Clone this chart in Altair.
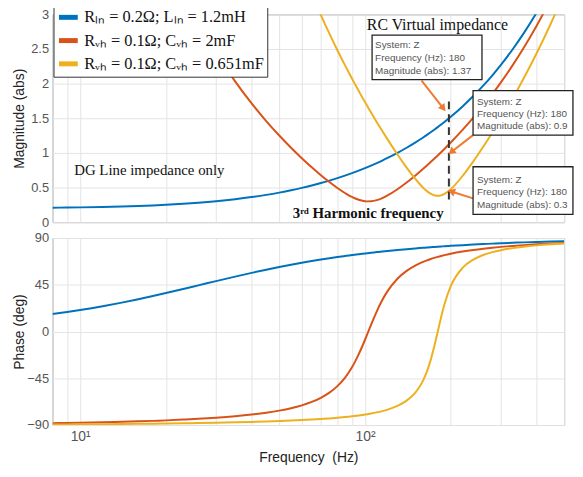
import altair as alt
import pandas as pd

# ---------------- data ----------------
freq = [8, 9, 10, 12, 14, 16, 18, 20, 23, 26, 30, 35, 40, 45, 50, 55, 60, 65, 70, 75,
        80, 85, 88, 90, 92, 95, 98, 100, 102, 105, 110, 115, 120, 130, 140, 150, 155, 160,
        165, 170, 175, 180, 185, 190, 200, 220, 240, 260, 280, 300, 330, 360, 400, 450, 500]

blue_mag = [0.2089, 0.2112, 0.2137, 0.2195, 0.2261, 0.2336, 0.2417, 0.2505, 0.2647, 0.2801,
            0.3019, 0.3311, 0.3619, 0.3939, 0.4268, 0.4604, 0.4946, 0.5293, 0.5644, 0.5998,
            0.6355, 0.6714, 0.6930, 0.7074, 0.7219, 0.7437, 0.7655, 0.7801, 0.7946, 0.8166,
            0.8532, 0.8898, 0.9266, 1.0004, 1.0744, 1.1485, 1.1857, 1.2228, 1.2600, 1.2973,
            1.3346, 1.3718, 1.4091, 1.4465, 1.5212, 1.6708, 1.8206, 1.9705, 2.1206, 2.2708,
            2.4962, 2.7217, 3.0226, 3.3988, 3.7752]
blue_phase = [16.78, 18.74, 20.66, 24.34, 27.82, 31.10, 34.16, 37.02, 40.93, 44.43,
              48.52, 52.84, 56.45, 59.48, 62.05, 64.25, 66.15, 67.80, 69.25, 70.52,
              71.66, 72.67, 73.23, 73.58, 73.92, 74.40, 74.85, 75.14, 75.42, 75.82,
              76.44, 77.01, 77.54, 78.47, 79.27, 79.97, 80.29, 80.59, 80.87, 81.13,
              81.38, 81.62, 81.84, 82.05, 82.45, 83.13, 83.69, 84.17, 84.59, 84.95,
              85.40, 85.79, 86.21, 86.63, 86.96]

red_mag = [9.891, 8.779, 7.888, 6.548, 5.587, 4.862, 4.296, 3.840, 3.300, 2.880,
           2.445, 2.032, 1.714, 1.460, 1.251, 1.075, 0.924, 0.7931, 0.6789, 0.5792,
           0.4932, 0.4210, 0.3847, 0.3637, 0.3455, 0.3236, 0.3088, 0.3029, 0.3002, 0.3019,
           0.3182, 0.3474, 0.3852, 0.4749, 0.5722, 0.6713, 0.7207, 0.7699, 0.8187, 0.8672,
           0.9154, 0.9630, 1.0103, 1.0573, 1.1499, 1.3313, 1.5081, 1.6813, 1.8515, 2.0190,
           2.2670, 2.5113, 2.8329, 3.2301, 3.6232]
red_phase = [-88.26, -88.04, -87.82, -87.37, -86.92, -86.46, -86.00, -85.52, -84.78, -84.02,
             -82.95, -81.51, -79.92, -78.14, -76.13, -73.79, -71.05, -67.78, -63.77, -58.81,
             -52.54, -44.55, -38.75, -34.42, -29.73, -22.03, -13.70, -7.93, -2.12, 6.43,
             19.45, 30.27, 38.85, 50.82, 58.38, 63.45, 65.40, 67.07, 68.50, 69.76,
             70.87, 71.85, 72.73, 73.52, 74.88, 76.98, 78.53, 79.72, 80.68, 81.46,
             82.40, 83.14, 83.92, 84.67, 85.25]

yellow_mag = [30.50, 27.10, 24.37, 20.28, 17.36, 15.16, 13.45, 12.08, 10.46, 9.211,
              7.928, 6.728, 5.818, 5.102, 4.522, 4.041, 3.634, 3.293, 2.989, 2.721,
              2.482, 2.267, 2.149, 2.073, 2.000, 1.896, 1.796, 1.733, 1.672, 1.583,
              1.444, 1.315, 1.195, 0.9773, 0.7882, 0.6271, 0.5580, 0.4978, 0.4481, 0.4109,
              0.3878, 0.3800, 0.3870, 0.4071, 0.4754, 0.6665, 0.8775, 1.0886, 1.2951, 1.4961,
              1.7882, 2.0704, 2.4346, 2.8749, 3.3030]
yellow_phase = [-89.44, -89.37, -89.29, -89.15, -89.01, -88.87, -88.72, -88.58, -88.36, -88.13,
                -87.83, -87.44, -87.04, -86.63, -86.20, -85.74, -85.27, -84.76, -84.22, -83.65,
                -83.03, -82.36, -81.93, -81.63, -81.31, -80.82, -80.30, -79.94, -79.56, -78.95,
                -77.85, -76.59, -75.16, -71.57, -66.52, -58.98, -53.71, -46.99, -38.37, -27.52,
                -14.48, -0.19, 13.75, 25.93, 43.59, 61.28, 69.23, 73.61, 76.38, 78.29,
                80.26, 81.61, 82.89, 83.99, 84.78]

series_names = ["Rₗₙ = 0.2Ω; Lₗₙ = 1.2mH",
                "Rᵥₕ = 0.1Ω; Cᵥₕ = 2mF",
                "Rᵥₕ = 0.1Ω; Cᵥₕ = 0.651mF"]
series_colors = ["#0072BD", "#D95319", "#EDB120"]

x_grid_values = [8, 9, 10, 20, 30, 40, 50, 60, 70, 80, 90, 100, 200, 300, 400, 500]
mag_ticks = [0, 0.5, 1, 1.5, 2, 2.5, 3]
phase_ticks = [-90, -45, 0, 45, 90]

# data tips (box corners in data units, text)
tip_freq = [180, 180, 180]
tip_value = ["1.37", "0.963", "0.3"]
tip_f1 = [105.9, 239.5, 239.5]
tip_f2 = [257.4, 537.0, 537.0]
tip_top = [2.70, 1.90, 0.80]
tip_bottom = [2.057, 1.257, 0.114]
tip_text_f = [108.5, 247.3, 247.3]
tip_line_m = [[2.557, 2.371, 2.186], [1.729, 1.557, 1.386], [0.614, 0.429, 0.243]]

# arrows from data tips
arrow_f1 = [158.0, 239.5, 239.5]
arrow_m1 = [2.043, 1.257, 0.343]
arrow_f2 = [188.4, 200.9, 200.9]
arrow_m2 = [1.643, 1.014, 0.443]
arrow_angle = [142, 232, 288]

# dashed marker of 3rd harmonic
dash_f = [197]
dash_m1 = [0.329]
dash_m2 = [1.757]

# free text annotations
note_text = ["RC Virtual impedance", "DG Line impedance only", "3ʳᵈ Harmonic frequency"]
note_f = [179.6, 17.5, 102.6]
note_m = [2.843, 0.757, 0.129]
note_weight = ["normal", "normal", "bold"]
note_size = [16, 15, 15]

# ---------------- tables ----------------
records = []
for name, mags, phs in zip(series_names, [blue_mag, red_mag, yellow_mag],
                           [blue_phase, red_phase, yellow_phase]):
    for f, m, p in zip(freq, mags, phs):
        records.append({"freq": f, "mag": m, "phase": p, "series": name})
curves = pd.DataFrame(records)

boxes = pd.DataFrame({"f1": tip_f1, "f2": tip_f2, "top": tip_top, "bottom": tip_bottom})
tip_rows = []
for i in range(3):
    lines = ["System: Z", f"Frequency (Hz): {tip_freq[i]}", f"Magnitude (abs): {tip_value[i]}"]
    for txt, m in zip(lines, tip_line_m[i]):
        tip_rows.append({"f": tip_text_f[i], "m": m, "text": txt, "box": i})
tips = pd.DataFrame(tip_rows)
arrows = pd.DataFrame({"f1": arrow_f1, "m1": arrow_m1, "f2": arrow_f2, "m2": arrow_m2,
                       "angle": arrow_angle})
dash = pd.DataFrame({"f": dash_f, "m1": dash_m1, "m2": dash_m2})
notes = pd.DataFrame({"text": note_text, "f": note_f, "m": note_m})

# ---------------- scales / axes ----------------
xscale = alt.Scale(type="log", domain=[8, 500], nice=False)
magscale = alt.Scale(domain=[0, 3], nice=False, zero=False)
phscale = alt.Scale(domain=[-90, 90], nice=False, zero=False)
cscale = alt.Scale(domain=series_names, range=series_colors)
orange = "#EE7B30"
W = 517

top_x_axis = alt.Axis(values=x_grid_values, labels=False, ticks=False, domain=False,
                      title=None, grid=True)
mag_axis = alt.Axis(values=mag_ticks, format="~g", title="Magnitude (abs)", ticks=False,
                    domain=False, minExtent=20, maxExtent=20, labelPadding=4, titlePadding=6,
                    grid=True)


def X(field):
    return alt.X(field, scale=xscale, axis=top_x_axis)


def Y(field):
    return alt.Y(field, scale=magscale, axis=mag_axis)


mag_lines = alt.Chart(curves).mark_line(strokeWidth=2, interpolate="monotone", clip=True).encode(
    x=X("freq:Q"),
    y=Y("mag:Q"),
    color=alt.Color("series:N", scale=cscale, sort=series_names,
                    legend=alt.Legend(title=None, orient="none", legendX=1, legendY=-12,
                                      fillColor="white", strokeColor="#333", padding=3,
                                      symbolType="stroke", symbolStrokeWidth=5, symbolSize=361,
                                      labelFont="Liberation Serif", labelFontSize=16.5,
                                      labelColor="#111", labelLimit=400, rowPadding=1.5,
                                      labelOffset=4)),
    detail="series:N",
)

dash_layer = alt.Chart(dash).mark_rule(color="#333", strokeWidth=2, strokeDash=[8, 5]).encode(
    x=X("f:Q"), y=Y("m1:Q"), y2="m2:Q",
)

box_layer = alt.Chart(boxes).mark_rect(fill="white", stroke="#222", strokeWidth=1.3).encode(
    x=X("f1:Q"), x2="f2:Q", y=Y("top:Q"), y2="bottom:Q",
)

tip_layer1 = alt.Chart(tips[tips["box"] == 0]).mark_text(
    align="left", baseline="middle", font="Liberation Sans", fontSize=10, color="#555").encode(
    x=X("f:Q"), y=Y("m:Q"), text="text:N",
)
tip_layer2 = alt.Chart(tips[tips["box"] > 0]).mark_text(
    align="left", baseline="middle", font="Liberation Sans", fontSize=10, color="#555",
    limit=97, ellipsis="\u200b").encode(
    x=X("f:Q"), y=Y("m:Q"), text="text:N",
)

arrow_lines = alt.Chart(arrows).mark_rule(color=orange, strokeWidth=2).encode(
    x=X("f1:Q"), x2="f2:Q", y=Y("m1:Q"), y2="m2:Q",
)
arrow_heads = alt.Chart(arrows).mark_point(shape="triangle-up", filled=True, size=70,
                                           color=orange, opacity=1).encode(
    x=X("f2:Q"), y=Y("m2:Q"), angle=alt.Angle("angle:Q", scale=None),
)

note_layers = []
for i in range(3):
    note_layers.append(
        alt.Chart(notes.iloc[[i]]).mark_text(font="Liberation Serif", fontSize=note_size[i],
                                            fontWeight=note_weight[i], color="#111",
                                            align="center", baseline="middle").encode(
            x=X("f:Q"), y=Y("m:Q"), text="text:N",
        )
    )

top = alt.layer(mag_lines, dash_layer, arrow_lines, arrow_heads, box_layer, tip_layer1,
                tip_layer2, *note_layers).properties(width=W, height=210)

bottom_x_axis = alt.Axis(values=x_grid_values,
                         labelExpr="datum.value == 10 ? '10¹' : (datum.value == 100 ? '10²' : '')",
                         ticks=False, domain=False, title="Frequency\u00a0 (Hz)",
                         labelFontSize=14, labelPadding=5, titlePadding=7, labelOverlap=False,
                         grid=True)
ph_axis = alt.Axis(values=phase_ticks, title="Phase (deg)", ticks=False, domain=False,
                   minExtent=20, maxExtent=20, labelPadding=4, titlePadding=6, grid=True)

bottom = alt.Chart(curves).mark_line(strokeWidth=2, interpolate="monotone", clip=True).encode(
    x=alt.X("freq:Q", scale=xscale, axis=bottom_x_axis),
    y=alt.Y("phase:Q", scale=phscale, axis=ph_axis),
    color=alt.Color("series:N", scale=cscale, sort=series_names, legend=None),
    detail="series:N",
).properties(width=W, height=189)

chart = alt.vconcat(top, bottom, spacing=16, bounds="flush").resolve_scale(
    color="independent").resolve_legend(color="independent").properties(
    padding={"top": -9, "left": 4, "right": 0, "bottom": 0}
).configure_view(stroke="#9a9a9a", strokeWidth=1).configure_axis(
    gridColor="#e4e4e4", labelFont="Liberation Sans", titleFont="Liberation Sans",
    labelColor="#555", titleColor="#222", titleFontWeight="normal", labelFontSize=13,
    titleFontSize=14
)

chart.save("out.html", embed_options={"renderer": "svg", "actions": False})
